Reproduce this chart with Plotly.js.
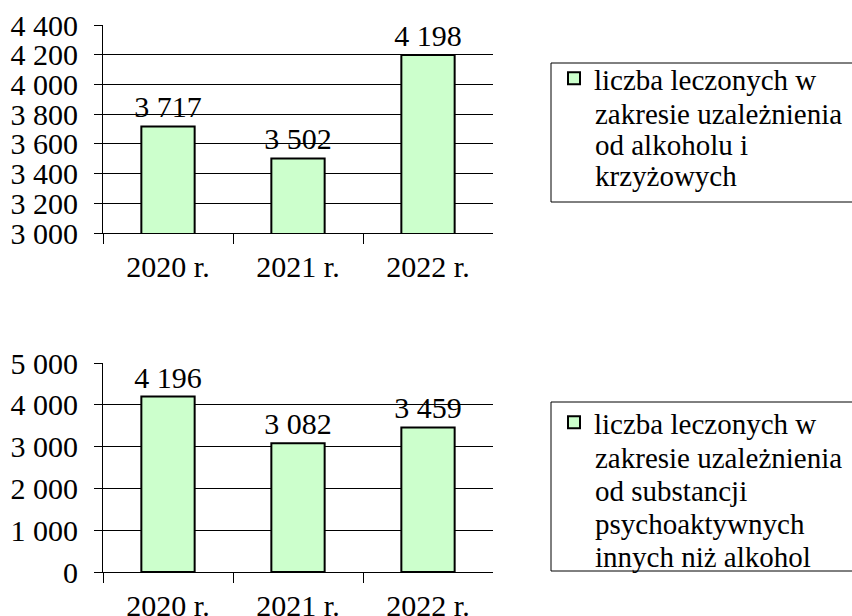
<!DOCTYPE html>
<html><head><meta charset="utf-8">
<script src="https://cdn.plot.ly/plotly-3.0.1.min.js"></script>
<style>html,body{margin:0;padding:0;background:#fff}#chart{width:852px;height:616px}</style>
</head><body><div id="chart"></div>
<script>
const categories = ['2020 r.', '2021 r.', '2022 r.'];
const alkoholValues = [3717, 3502, 4198];
const substancjeValues = [4196, 3082, 3459];
const alkoholLines = ['liczba leczonych w', 'zakresie uzależnienia', 'od alkoholu i', 'krzyżowych'];
const substancjeLines = ['liczba leczonych w', 'zakresie uzależnienia', 'od substancji', 'psychoaktywnych', 'innych niż alkohol'];

const W = 852, H = 616;
const FONT = 'Liberation Serif';
const fmt = v => String(v).replace(/\B(?=(\d{3})+(?!\d))/g, ' ');
const px = v => v / W;
const py = v => 1 - v / H;

const barStyle = {color: '#ccffcc', line: {color: '#000', width: 2}};
const traces = [
  {type: 'bar', x: categories, y: alkoholValues, name: alkoholLines[0], xaxis: 'x', yaxis: 'y',
   marker: barStyle, text: alkoholValues.map(fmt), textposition: 'outside', cliponaxis: false, constraintext: 'none',
   textfont: {family: FONT, size: 30, color: '#000'}, legend: 'legend', hoverinfo: 'skip'},
  {type: 'bar', x: categories, y: substancjeValues, name: substancjeLines[0], xaxis: 'x2', yaxis: 'y2',
   marker: barStyle, text: substancjeValues.map(fmt), textposition: 'outside', cliponaxis: false, constraintext: 'none',
   textfont: {family: FONT, size: 30, color: '#000'}, legend: 'legend2', hoverinfo: 'skip'}
];

const xax = (dom, anchor) => ({domain: dom, anchor: anchor, type: 'category', showline: true, linecolor: '#000', linewidth: 1,
  ticks: 'outside', tickson: 'boundaries', ticklen: 10, tickcolor: '#000', tickwidth: 1, showgrid: false,
  tickfont: {family: FONT, size: 30, color: '#000'}, ticklabelstandoff: 7, automargin: false, fixedrange: true});
const yax = (dom, anchor, range, dtick) => ({domain: dom, anchor: anchor, range: range, dtick: dtick, tickformat: ',d',
  showline: true, linecolor: '#000', linewidth: 1, ticks: 'outside', ticklen: 8, tickcolor: '#000', tickwidth: 1,
  showgrid: true, gridcolor: '#000', gridwidth: 1, zeroline: false,
  tickfont: {family: FONT, size: 30, color: '#000'}, ticklabelstandoff: 10, automargin: false, fixedrange: true});

// continuation lines of each legend entry, tighter line spacing than Plotly's legend allows
const LEG_FONT = 29;
const legendLines = (lines, firstY, step) => lines.slice(1).map((t, i) => ({
  xref: 'paper', yref: 'paper', x: px(594), y: py(firstY + (i + 1) * step), xanchor: 'left', yanchor: 'middle',
  showarrow: false, text: t, font: {family: FONT, size: LEG_FONT, color: '#000'}, borderpad: 0
}));

const layout = {
  width: W, height: H, margin: {l: 0, r: 0, t: 0, b: 0}, paper_bgcolor: '#fff', plot_bgcolor: '#fff',
  separators: ', ', bargap: 0.59, showlegend: true,
  font: {family: FONT, color: '#000'},
  xaxis: xax([px(103), px(493)], 'y'),
  yaxis: yax([py(233), py(25)], 'x', [3000, 4400], 200),
  xaxis2: xax([px(103), px(493)], 'y2'),
  yaxis2: yax([py(572), py(363)], 'x2', [0, 5000], 1000),
  legend: {x: px(554), y: py(53), xanchor: 'left', yanchor: 'top', bgcolor: 'rgba(0,0,0,0)', borderwidth: 0, valign: 'middle',
    font: {family: FONT, size: LEG_FONT, color: '#000'}, itemwidth: 30, tracegroupgap: 0},
  legend2: {x: px(554), y: py(397), xanchor: 'left', yanchor: 'top', bgcolor: 'rgba(0,0,0,0)', borderwidth: 0, valign: 'middle',
    font: {family: FONT, size: LEG_FONT, color: '#000'}, itemwidth: 30, tracegroupgap: 0},
  annotations: legendLines(alkoholLines, 83, 31).concat(legendLines(substancjeLines, 425, 33)),
  shapes: [
    {type: 'rect', xref: 'paper', yref: 'paper', x0: px(551), x1: px(870), y0: py(63), y1: py(202), line: {color: '#000', width: 1}},
    {type: 'rect', xref: 'paper', yref: 'paper', x0: px(551), x1: px(870), y0: py(402), y1: py(571), line: {color: '#000', width: 1}}
  ]
};
Plotly.newPlot('chart', traces, layout, {displayModeBar: false, staticPlot: true});
</script></body></html>
